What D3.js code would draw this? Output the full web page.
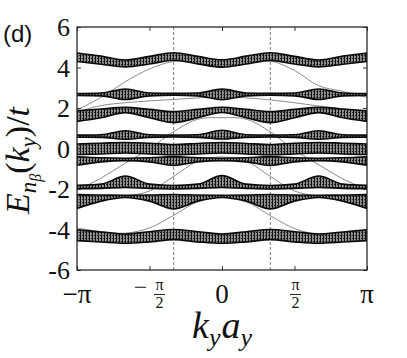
<!DOCTYPE html>
<html>
<head>
<meta charset="utf-8">
<script src="https://cdn.jsdelivr.net/npm/d3@7"></script>
<style>
  body { margin: 0; background: #fff; }
</style>
</head>
<body>
<div id="chart"></div>
<script>
// sample points along k_y, in units of pi/6
let kSteps = [-6, -5, -4, -3, -2, -1, 0, 1, 2, 3, 4, 5, 6]

// bulk bands: lower and upper edge of each band (units of t)
let b1Hi = [4.72, 4.56, 4.37, 4.55, 4.73, 4.55, 4.38, 4.56, 4.73, 4.55, 4.37, 4.56, 4.72]
let b1Lo = [4.30, 4.16, 4.03, 4.17, 4.36, 4.18, 4.02, 4.17, 4.35, 4.17, 4.03, 4.16, 4.30]
let b2Hi = [2.71, 2.74, 2.94, 2.74, 2.72, 2.74, 2.93, 2.74, 2.72, 2.74, 2.94, 2.74, 2.71]
let b2Lo = [2.62, 2.60, 2.42, 2.60, 2.63, 2.60, 2.41, 2.60, 2.63, 2.60, 2.42, 2.60, 2.62]
let b3Hi = [1.86, 1.95, 2.03, 1.93, 1.82, 1.93, 2.04, 1.93, 1.82, 1.93, 2.03, 1.95, 1.86]
let b3Lo = [1.34, 1.52, 1.77, 1.52, 1.28, 1.52, 1.78, 1.52, 1.28, 1.52, 1.77, 1.52, 1.34]
let b4Hi = [0.66, 0.68, 0.88, 0.68, 0.66, 0.68, 0.90, 0.68, 0.66, 0.68, 0.88, 0.68, 0.66]
let b4Lo = [0.56, 0.55, 0.46, 0.55, 0.57, 0.55, 0.47, 0.55, 0.57, 0.55, 0.46, 0.55, 0.56]
let b5Hi = [0.22, 0.26, 0.30, 0.26, 0.20, 0.25, 0.30, 0.25, 0.20, 0.26, 0.30, 0.26, 0.22]
let b5Lo = [-0.30, -0.27, -0.22, -0.27, -0.31, -0.27, -0.22, -0.27, -0.31, -0.27, -0.22, -0.27, -0.30]
let b6Hi = [-0.41, -0.46, -0.48, -0.46, -0.40, -0.46, -0.48, -0.46, -0.40, -0.46, -0.48, -0.46, -0.41]
let b6Lo = [-0.83, -0.66, -0.60, -0.66, -0.84, -0.66, -0.60, -0.66, -0.84, -0.66, -0.60, -0.66, -0.83]
let b7Hi = [-1.82, -1.76, -1.36, -1.76, -1.83, -1.76, -1.34, -1.76, -1.83, -1.76, -1.36, -1.76, -1.82]
let b7Lo = [-1.99, -1.97, -1.92, -1.97, -2.00, -1.97, -1.92, -1.97, -2.00, -1.97, -1.92, -1.97, -1.99]
let b8Hi = [-2.28, -2.30, -2.31, -2.30, -2.27, -2.30, -2.31, -2.30, -2.27, -2.30, -2.31, -2.30, -2.28]
let b8Lo = [-2.96, -2.60, -2.42, -2.60, -2.98, -2.60, -2.42, -2.60, -2.98, -2.60, -2.42, -2.60, -2.96]
let b9Hi = [-4.02, -4.12, -4.22, -4.11, -4.00, -4.11, -4.22, -4.11, -4.00, -4.11, -4.22, -4.12, -4.02]
let b9Lo = [-4.55, -4.62, -4.68, -4.61, -4.50, -4.61, -4.68, -4.61, -4.50, -4.61, -4.68, -4.62, -4.55]

// in-gap (edge) states
let es1 = [1.90, 2.53, 3.30, 3.93, 4.30, 4.28, 4.20, 4.26, 4.32, 3.85, 3.10, 2.82, 2.52]
let es2 = [1.80, 2.12, 2.26, 2.35, 2.42, 2.50, 2.55, 2.50, 2.40, 2.26, 2.10, 1.95, 1.80]
let es3 = [-2.05, -1.46, -0.72, -0.02, 0.83, 1.45, 1.52, 1.45, 0.82, -0.08, -0.80, -1.50, -2.02]
let es4 = [-3.93, -4.10, -4.18, -3.92, -3.30, -2.62, -2.36, -2.62, -3.32, -3.95, -4.25, -4.27, -4.25]
let es5 = [-2.60, -2.45, -2.35, -2.10, -1.38, -0.62, -0.42, -0.62, -1.38, -2.10, -2.35, -2.45, -2.60]

let yTicks = [-6, -4, -2, 0, 2, 4, 6]
let xTickSteps = [-6, -3, 0, 3, 6]
let dashedSteps = [-2, 2]

let margin = { top: 27, left: 77, right: 40, bottom: 88 }
let width = 407 - margin.left - margin.right
let height = 358 - margin.top - margin.bottom

let serif = "'Liberation Serif', 'DejaVu Serif', serif"

let root = d3
  .select('#chart')
  .append('svg')
  .attr('width', 407)
  .attr('height', 358)

let svg = root
  .append('g')
  .attr('transform', 'translate(' + margin.left + ',' + margin.top + ')')

let toK = s => (s * Math.PI) / 6

let xPositionScale = d3.scaleLinear().domain([-Math.PI, Math.PI]).range([0, width])
let yPositionScale = d3.scaleLinear().domain([-6, 6]).range([height, 0])

let defs = root.append('defs')
defs
  .append('clipPath')
  .attr('id', 'plot-clip')
  .append('rect')
  .attr('width', width)
  .attr('height', height)

// dense mesh of many sub-band lines
let pat = defs
  .append('pattern')
  .attr('id', 'mesh')
  .attr('patternUnits', 'userSpaceOnUse')
  .attr('width', 3)
  .attr('height', 3)
pat.append('rect').attr('width', 3).attr('height', 3).attr('fill', '#8e8e8e')
pat.append('rect').attr('width', 1).attr('height', 3).attr('fill', '#111')
pat.append('rect').attr('x', 2).attr('y', 1).attr('width', 1).attr('height', 1).attr('fill', '#2a2a2a')

let plot = svg.append('g').attr('clip-path', 'url(#plot-clip)')

plot
  .selectAll('.k-marker')
  .data(dashedSteps)
  .enter()
  .append('line')
  .attr('class', 'k-marker')
  .attr('x1', d => xPositionScale(toK(d)))
  .attr('x2', d => xPositionScale(toK(d)))
  .attr('y1', 0)
  .attr('y2', height)
  .attr('stroke', '#444')
  .attr('stroke-width', 0.7)
  .attr('stroke-dasharray', '3,2')

let edgeStates = [es1, es2, es3, es4, es5]

let line = d3
  .line()
  .x((d, i) => xPositionScale(toK(kSteps[i])))
  .y(d => yPositionScale(d))
  .curve(d3.curveCatmullRom)

plot
  .selectAll('.edge-line')
  .data(edgeStates)
  .enter()
  .append('path')
  .attr('class', 'edge-line')
  .attr('d', d => line(d))
  .attr('fill', 'none')
  .attr('stroke', '#5a5a5a')
  .attr('stroke-width', 0.7)

let bands = [
  [b1Lo, b1Hi],
  [b2Lo, b2Hi],
  [b3Lo, b3Hi],
  [b4Lo, b4Hi],
  [b5Lo, b5Hi],
  [b6Lo, b6Hi],
  [b7Lo, b7Hi],
  [b8Lo, b8Hi],
  [b9Lo, b9Hi]
].map(b => kSteps.map((s, i) => ({ k: toK(s), lo: b[0][i], hi: b[1][i] })))

let area = d3
  .area()
  .x(d => xPositionScale(d.k))
  .y0(d => yPositionScale(d.lo))
  .y1(d => yPositionScale(d.hi))
  .curve(d3.curveMonotoneX)

plot
  .selectAll('.band')
  .data(bands)
  .enter()
  .append('path')
  .attr('class', 'band')
  .attr('d', d => area(d))
  .attr('fill', 'url(#mesh)')
  .attr('stroke', '#0a0a0a')
  .attr('stroke-width', 1.6)
  .attr('stroke-linejoin', 'round')

// ticks on all four sides, pointing inward
let xTickVals = xTickSteps.map(toK)
svg
  .append('g')
  .attr('class', 'axis x-axis')
  .attr('transform', 'translate(0,' + height + ')')
  .call(d3.axisBottom(xPositionScale).tickValues(xTickVals).tickSize(-4).tickFormat(''))
svg
  .append('g')
  .attr('class', 'axis x-axis-top')
  .call(d3.axisTop(xPositionScale).tickValues(xTickVals).tickSize(-4).tickFormat(''))
svg
  .append('g')
  .attr('class', 'axis y-axis')
  .call(
    d3
      .axisLeft(yPositionScale)
      .tickValues(yTicks)
      .tickSize(-4)
      .tickPadding(7)
      .tickFormat(d => String(d))
  )
svg
  .append('g')
  .attr('class', 'axis y-axis-right')
  .attr('transform', 'translate(' + width + ',0)')
  .call(d3.axisRight(yPositionScale).tickValues(yTicks).tickSize(-4).tickFormat(''))

svg.selectAll('.axis .domain').remove()
svg.selectAll('.axis line').attr('stroke', '#333').attr('stroke-width', 1)
svg
  .selectAll('.y-axis text')
  .attr('font-family', serif)
  .attr('font-size', 26)
  .attr('fill', '#111')
  .attr('dy', '0.34em')

svg
  .append('rect')
  .attr('width', width)
  .attr('height', height)
  .attr('fill', 'none')
  .attr('stroke', '#2a2a2a')
  .attr('stroke-width', 1.3)

// x tick labels: -pi, -pi/2, 0, pi/2, pi
let labelY = height + 33
xTickSteps.forEach(s => {
  let g = svg
    .append('g')
    .attr('transform', 'translate(' + xPositionScale(toK(s)) + ',0)')
    .attr('font-family', serif)
    .attr('fill', '#111')
  if (Math.abs(s) === 6 || s === 0) {
    g.append('text')
      .attr('y', labelY)
      .attr('text-anchor', 'middle')
      .attr('font-size', 27)
      .text(s === 0 ? '0' : s < 0 ? '\u2212\u03c0' : '\u03c0')
  } else {
    let fx = s < 0 ? 10 : 1
    if (s < 0) {
      g.append('text')
        .attr('x', -9)
        .attr('y', labelY - 8)
        .attr('text-anchor', 'middle')
        .attr('font-size', 24)
        .text('\u2212')
    }
    g.append('text')
      .attr('x', fx)
      .attr('y', labelY - 13)
      .attr('text-anchor', 'middle')
      .attr('font-size', 16)
      .text('\u03c0')
    g.append('line')
      .attr('x1', fx - 5.5)
      .attr('x2', fx + 5.5)
      .attr('y1', labelY - 8.5)
      .attr('y2', labelY - 8.5)
      .attr('stroke', '#111')
      .attr('stroke-width', 0.9)
    g.append('text')
      .attr('x', fx)
      .attr('y', labelY + 5)
      .attr('text-anchor', 'middle')
      .attr('font-size', 16)
      .text('2')
  }
})

// x axis title k_y a_y
let xTitle = root
  .append('text')
  .attr('x', margin.left + width / 2)
  .attr('y', 338)
  .attr('text-anchor', 'middle')
  .attr('font-family', serif)
  .attr('font-size', 38)
  .attr('fill', '#111')
xTitle.append('tspan').attr('font-style', 'italic').text('k')
xTitle.append('tspan').attr('font-style', 'italic').attr('font-size', 26).attr('dy', 8).text('y')
xTitle.append('tspan').attr('font-style', 'italic').attr('dy', -8).attr('dx', 1).text('a')
xTitle.append('tspan').attr('font-style', 'italic').attr('font-size', 26).attr('dy', 8).text('y')

// y axis title E_{n_beta}(k_y)/t
let yTitle = root
  .append('text')
  .attr('transform', 'translate(29,' + (margin.top + height / 2 + 12) + ') rotate(-90)')
  .attr('text-anchor', 'middle')
  .attr('font-family', serif)
  .attr('font-size', 34)
  .attr('fill', '#111')
yTitle.append('tspan').attr('font-style', 'italic').text('E')
yTitle.append('tspan').attr('font-style', 'italic').attr('font-size', 23).attr('dy', 7).text('n')
yTitle.append('tspan').attr('font-style', 'italic').attr('font-size', 16).attr('dy', 5).text('\u03b2')
yTitle.append('tspan').attr('dy', -12).text('(')
yTitle.append('tspan').attr('font-style', 'italic').text('k')
yTitle.append('tspan').attr('font-style', 'italic').attr('font-size', 23).attr('dy', 7).text('y')
yTitle.append('tspan').attr('dy', -7).text(')/')
yTitle.append('tspan').attr('font-style', 'italic').text('t')

root
  .append('text')
  .attr('x', 3)
  .attr('y', 42)
  .attr('font-family', "'Liberation Sans', Arial, sans-serif")
  .attr('font-size', 24)
  .attr('fill', '#111')
  .text('(d)')
</script>
</body>
</html>
